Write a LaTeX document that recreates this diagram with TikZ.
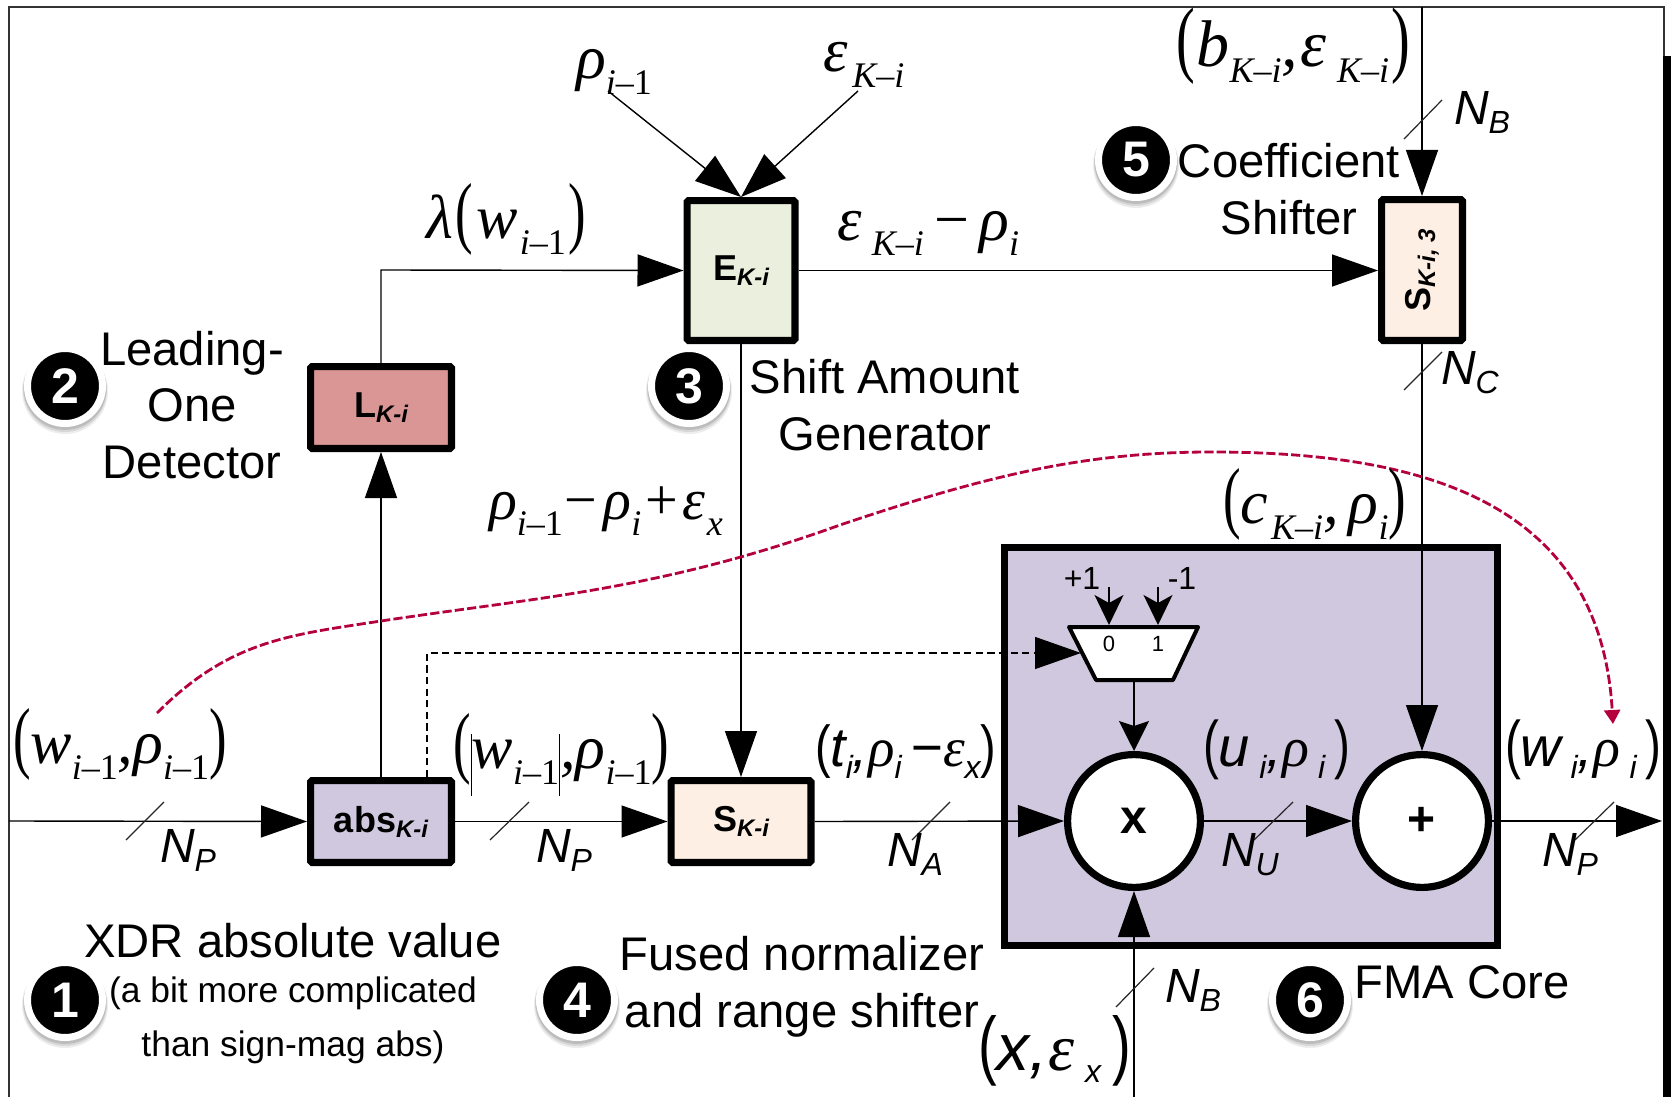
\documentclass[tikz,border=0pt]{standalone}
\usepackage{fontspec}
\setmainfont{Liberation Sans}
\newfontfamily\tms{Liberation Serif}
\usetikzlibrary{arrows.meta}
\definecolor{lilac}{RGB}{208,200,222}
\definecolor{pinkred}{RGB}{217,150,148}
\definecolor{palegreen}{RGB}{235,240,222}
\definecolor{peach}{RGB}{253,239,227}
\definecolor{crim}{RGB}{180,0,60}
% serif maths
\newcommand\TM[2][31]{{\fontsize{#1}{#1}\selectfont\tms\itshape #2}}
\newcommand\SB[1]{\raisebox{-8pt}{\fontsize{18}{18}\selectfont #1}}
\newcommand\LPS[1]{\scalebox{.85}[#1]{\upshape(}}
\newcommand\RPS[1]{\scalebox{.85}[#1]{\upshape)}}
\newcommand\LP{\LPS{1.28}}
\newcommand\RP{\RPS{1.28}}
\newcommand\imo{i{\upshape –}{\upshape 1}}
\newcommand\Ki{K{\upshape –}i}
\newcommand\MN{{\upshape\,−\,}}
\newcommand\BAR{\raisebox{-14pt}{\rule{0.6pt}{31pt}}}
% sans italic
\newcommand\SN[2][23]{{\fontsize{#1}{#1}\selectfont\itshape #2}}
\newcommand\SSb[1]{\raisebox{-6pt}{\fontsize{16}{16}\selectfont #1}}
\newcommand\GK[1]{{\tms\itshape #1}}
\newcommand\NL[2]{{\fontsize{24}{24}\selectfont\itshape #1\raisebox{-4.5pt}{\fontsize{16}{16}\selectfont #2}}}
\newcommand\BL[2]{{\fontsize{18}{18}\selectfont\bfseries #1\raisebox{-2.5pt}{\fontsize{12}{12}\selectfont\itshape #2}}}
\tikzset{
  bigtip/.style={-{Triangle[length=23pt,width=16pt]}},
  midtip/.style={-{Stealth[length=15pt,width=15pt,inset=2.5pt]}},
  smalltip/.style={-{Stealth[length=15pt,width=14.5pt,inset=4pt]}},
  wire/.style={line width=0.7pt,black},
  box/.style={draw=black,line width=3.6pt,rounded corners=0.8pt,inner sep=0pt},
  blockbox/.style={draw=black,line width=3.6pt,inner sep=0pt},
  opcircle/.style={circle,draw=black,fill=white,line width=3.6pt,inner sep=0pt,minimum size=66.4pt},
  lbl/.style={inner sep=0pt,outer sep=0pt,anchor=base west},
  para/.style={inner sep=0pt,align=center},
  slash/.style={line width=0.6pt,black!85},
  badge/.style={circle,fill=black,draw=white,line width=3.5pt,inner sep=0pt,minimum size=37.5pt,text=white,font=\fontsize{25}{25}\selectfont\bfseries},
}
\newcommand\bshade[1]{%
  \fill[black,opacity=.07] ([yshift=-2.5pt]#1) circle[radius=43];
  \fill[black,opacity=.09] ([yshift=-2pt]#1) circle[radius=42];
  \fill[black,opacity=.12] ([yshift=-1.2pt]#1) circle[radius=41.5];}
\begin{document}
\begin{tikzpicture}[x=0.5pt,y=-0.5pt]
\useasboundingbox (0,0) rectangle (1671,1097);
\fill[white] (0,0) rectangle (1671,1097);
% outer frame
\draw[line width=0.8pt,black!80] (9,1097) -- (9,7) -- (1664,7) -- (1664,56);
\fill[black] (1663,56) rectangle (1671,1097);

% FMA block
\node[blockbox,fill=lilac,minimum width=246.4pt,minimum height=198.9pt] (fma) at (1251,746.5) {};

% blocks
\node[box,fill=lilac,minimum width=70.4pt,minimum height=40.9pt] (abs) at (381,821.5) {\BL{abs}{K-i}};
\node[box,fill=peach,minimum width=69.9pt,minimum height=40.9pt] (shift) at (741,821.5) {\BL{S}{K-i}};
\node[box,fill=pinkred,minimum width=70.4pt,minimum height=40.9pt] (lod) at (381,407.5) {\BL{L}{K-i}};
\node[box,fill=palegreen,minimum width=53.9pt,minimum height=69.9pt] (gen) at (741,270.5) {\BL{E}{K-i}};
\node[box,fill=peach,minimum width=40.4pt,minimum height=70.4pt] (cshift) at (1422,270) {\rotatebox{90}{\BL{S}{K-i, 3}}};
\node[opcircle] (mul) at (1134,821) {\raisebox{-2pt}{\fontsize{24}{24}\selectfont\bfseries x}};
\node[opcircle] (add) at (1422,821) {\raisebox{-2pt}{\fontsize{24}{24}\selectfont\bfseries +}};

% mux
\coordinate (muxTL) at (1069,627);
\coordinate (muxTR) at (1198,627);
\coordinate (muxBR) at (1173,680);
\coordinate (muxBL) at (1096,680);
\coordinate (muxSel) at (1081,653);
\coordinate (muxIn0) at (1109,625);
\coordinate (muxIn1) at (1158,625);
\coordinate (muxOut) at (1134,682);
\draw[fill=white,line width=2pt,line join=round] (muxTL) -- (muxTR) -- (muxBR) -- (muxBL) -- cycle;
\node[inner sep=0pt,font=\fontsize{11}{11}\selectfont] (m0) at (1109,644) {0};
\node[inner sep=0pt,font=\fontsize{11}{11}\selectfont] (m1) at (1158,644) {1};
\node[inner sep=0pt,font=\fontsize{16}{16}\selectfont] (pone) at (1082,578) {+1};
\node[inner sep=0pt,font=\fontsize{16}{16}\selectfont] (mone) at (1182,578) {-1};

% free ends
\coordinate (inL) at (9,821);
\coordinate (outR) at (1662,821);
\coordinate (rhoS) at (608,91);
\coordinate (epsS) at (858,91);
\coordinate (bTop) at (1422,7);
\coordinate (xBot) at (1134,1097);
\coordinate (m0S) at (1109,587);
\coordinate (m1S) at (1158,587);
\coordinate (corner1) at (381,270);
\coordinate (dashUp) at (427,777);
\coordinate (dashC) at (427,653);

% connectors
\draw[wire,bigtip] (inL) -- (abs.west);
\draw[wire,bigtip] (abs.east) -- (shift.west);
\draw[wire,bigtip] (shift.east) -- (mul.west);
\draw[wire,bigtip] (mul.east) -- (add.west);
\draw[wire,bigtip] (add.east) -- (outR);
\draw[wire,bigtip] (abs.north) -- (lod.south);
\draw[wire,bigtip] (lod.north) -- (corner1) -- (gen.west);
\draw[wire,bigtip] (rhoS) -- (gen.north);
\draw[wire,bigtip] (epsS) -- (gen.north);
\draw[wire,bigtip] (gen.east) -- (gen.east -| cshift.west);
\draw[wire,bigtip] (gen.south) -- (shift.north);
\draw[wire,bigtip] (bTop) -- (cshift.north);
\draw[wire,bigtip] (cshift.south) -- (add.north);
\draw[wire,bigtip] (xBot) -- (mul.south);
\draw[wire,midtip] (muxOut) -- (mul.north);
\draw[wire,smalltip] (m0S) -- (muxIn0);
\draw[wire,smalltip] (m1S) -- (muxIn1);
\draw[line width=0.65pt,dash pattern=on 3.6pt off 2.2pt] (dashUp) -- (dashC) -- (1036,653);
\draw[bigtip,line width=0.65pt] (1034,653) -- (muxSel);

% width slashes
\draw[slash] (126,840) -- (164,802);
\draw[slash] (490,840) -- (529,802);
\draw[slash] (912,840) -- (950,802);
\draw[slash] (1254,840) -- (1293,802);
\draw[slash] (1575,840) -- (1614,802);
\draw[slash] (1116,1007) -- (1154,968);
\draw[slash] (1404,139) -- (1442,100);
\draw[slash] (1404,390) -- (1442,352);

% red curve
\coordinate (redS) at (157,713);
\coordinate (redE) at (1613,724);
\draw[crim,line width=1.4pt,dash pattern=on 4.6pt off 1.6pt,-{Triangle[length=7pt,width=8pt]}]
  (redS) .. controls (230,640) and (290,635) .. (381,621)
  .. controls (540,597) and (660,590) .. (840,525)
  .. controls (980,478) and (1080,452) .. (1211,452)
  .. controls (1420,452) and (1600,500) .. (redE);

% maths labels
\node[lbl] (l1) at (576,79) {\TM{ρ\SB{\imo}}};
\node[lbl] (l2) at (823,72) {\TM{ε\kern2.5pt\SB{\Ki}}};
\node[lbl] (l3) at (426,238) {\TM{λ\kern1.5pt\LP\kern1.5pt w\kern1pt\SB{\imo}\kern1.5pt\RP}};
\node[lbl] (l4) at (837,240) {\TM{ε\,\SB{\Ki}\MN ρ\SB{i}}};
\node[lbl] (l5) at (489,519) {\TM[29]{ρ\SB{\imo}\kern1pt{\upshape −}\kern3pt ρ\SB{i}\kern2pt{\upshape +}\kern2pt ε\kern1pt\SB{x}}};
\node[lbl] (l6) at (1176,67) {\TM[33]{\LP\kern1pt b\SB{\Ki},\kern1pt ε\,\SB{\Ki}\kern1pt\RP}};
\node[lbl] (l7) at (1223,523) {\TM{\LP c\kern1.5pt\SB{\Ki},\,ρ\SB{i}\RP}};
\node[lbl] (l8) at (13,763) {\TM{\LP w\SB{\imo},ρ\SB{\imo}\RP}};
\node[lbl] (l9) at (453,768) {\TM{\LP\BAR w\SB{\imo}\BAR,ρ\SB{\imo}\RP}};
\node[lbl] (l10) at (815,766) {\SN[27.5]{\LPS{1.05}t\SSb{i},\GK{ρ}\SSb{i}\,−\GK{ε}\SSb{x}\RPS{1.05}}};
\node[lbl] (l11) at (1203,766) {\SN[28]{\LPS{1.15}u\,\SSb{i},\GK{ρ}\,\SSb{i}\,\RPS{1.15}}};
\node[lbl] (l12) at (1505,766) {\SN[28]{\LPS{1.15}w\,\SSb{i},\GK{ρ}\,\SSb{i}\,\RPS{1.15}}};
\node[lbl] (l13) at (978,1070) {\SN[33]{\LPS{1.15}x,\GK{ε}\,\SSb{x}\,\RPS{1.15}}};

% width labels
\node[lbl] (n1) at (160,862) {\NL{N}{P}};
\node[lbl] (n2) at (536,862) {\NL{N}{P}};
\node[lbl] (n3) at (887,866) {\NL{N}{A}};
\node[lbl] (n4) at (1221,866) {\NL{N}{U}};
\node[lbl] (n5) at (1542,866) {\NL{N}{P}};
\node[lbl] (n6) at (1165,1002) {\NL{N}{B}};
\node[lbl] (n7) at (1454,125) {\NL{N}{B}};
\node[lbl] (n8) at (1441,384) {\NL{N}{C}};

% descriptive text
\node[para,font=\fontsize{23.6}{28.4}\selectfont] (t2) at (192,405) {Leading-\\One\\Detector};
\node[para,font=\fontsize{23.6}{28.4}\selectfont] (t3) at (885,405) {Shift Amount\\Generator};
\node[para,font=\fontsize{23.6}{28.4}\selectfont] (t5) at (1289,189) {Coefficient\\Shifter};
\node[para,font=\fontsize{23.6}{28.4}\selectfont] (t4) at (802,987) {Fused normalizer\\and range shifter};
\node[para,font=\fontsize{23.6}{28.4}\selectfont] (t6) at (1462,982) {FMA Core};
\node[para,font=\fontsize{23.6}{28.4}\selectfont] (t1a) at (293,941) {XDR absolute value};
\node[para,font=\fontsize{17.7}{27}\selectfont] (t1b) at (293,1020.5) {(a bit more complicated\\than sign-mag abs)};

% numbered badges
\bshade{65,386}\node[badge] (b2) at (65,386) {2};
\bshade{689,386}\node[badge] (b3) at (689,386) {3};
\bshade{1136,160}\node[badge] (b5) at (1136,160) {5};
\bshade{65,1000}\node[badge] (b1) at (65,1000) {1};
\bshade{577,1000}\node[badge] (b4) at (577,1000) {4};
\bshade{1310,1000}\node[badge] (b6) at (1310,1000) {6};
\end{tikzpicture}
\end{document}
